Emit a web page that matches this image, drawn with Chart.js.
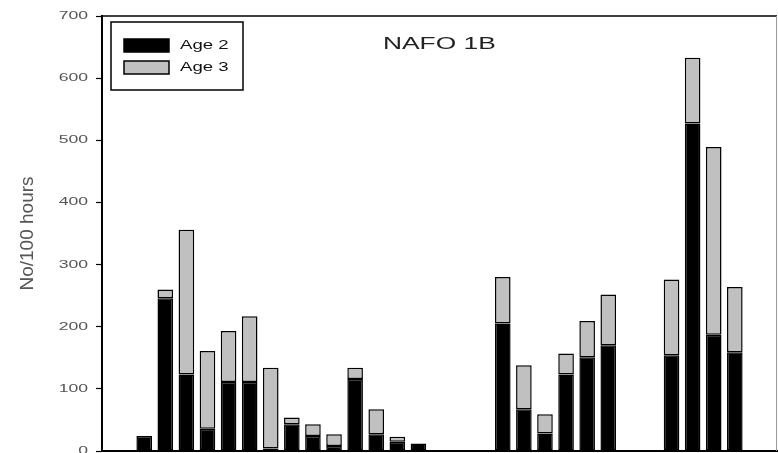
<!DOCTYPE html>
<html>
<head>
<meta charset="utf-8">
<script src="https://cdn.jsdelivr.net/npm/chart.js@4.4.1/dist/chart.umd.min.js"></script>
<style>
  html, body { margin: 0; padding: 0; background: #fff; overflow: hidden; }
  #wrap { position: relative; width: 778px; height: 475px; }
</style>
</head>
<body>
<div id="wrap"><canvas id="grafico"></canvas></div>
<script>
// años (las etiquetas del eje x quedan fuera del recorte)
const years = [];
for (let y = 1976; y <= 2008; y++) years.push(String(y));

const age2 = [null, null, 24, 246, 123, 36, 111, 111, 4, 43, 24, 8, 116, 27, 15, 12,
  null, null, null, 205, 67, 28, 123, 151, 170, null, null, 154, 527, 187, 159, null, null];
const age3 = [null, null, null, 14, 233, 125, 82, 106, 130, 11, 19, 19, 18, 40, 8, null,
  null, null, null, 75, 71, 31, 34, 58, 82, null, null, 122, 106, 302, 105, null, null];

const yTicks = [0, 100, 200, 300, 400, 500, 600, 700];
const seriesLabels = ['Age 2', 'Age 3'];
const titulo = 'NAFO 1B';

const FUENTE = '"Liberation Sans", Arial, sans-serif';

// texto ensanchado horizontalmente, como en la imagen original
function textoAncho(ctx, txt, x, y, size, escala, align, color) {
  ctx.save();
  ctx.font = size + 'px ' + FUENTE;
  ctx.fillStyle = color;
  ctx.textAlign = align;
  ctx.textBaseline = 'middle';
  ctx.translate(x, y);
  ctx.scale(escala, 1);
  ctx.fillText(txt, 0, 0);
  ctx.restore();
}

// marco superior/derecho, etiquetas del eje y, titulo y leyenda con recuadro
const decoracion = {
  id: 'decoracion',
  afterDraw(chart) {
    const ctx = chart.ctx;
    const a = chart.chartArea;
    const ejeY = chart.scales.y;
    ctx.save();
    // marco
    ctx.strokeStyle = '#000';
    ctx.lineWidth = 1.5;
    ctx.beginPath();
    ctx.moveTo(a.left, a.top);
    ctx.lineTo(a.right, a.top);
    ctx.stroke();
    ctx.strokeStyle = '#999';
    ctx.lineWidth = 1;
    ctx.beginPath();
    ctx.moveTo(a.right - 0.5, a.top);
    ctx.lineTo(a.right - 0.5, a.bottom);
    ctx.stroke();

    // etiquetas del eje y
    ejeY.ticks.forEach(t => {
      textoAncho(ctx, String(t.value), a.left - 14, ejeY.getPixelForValue(t.value), 11, 1.6, 'right', '#555');
    });

    // titulo
    textoAncho(ctx, titulo, a.left + 281, a.top + 28, 17, 1.55, 'left', '#222');

    // leyenda
    const lx = a.left + 9, ly = a.top + 6;
    ctx.strokeStyle = '#000';
    ctx.lineWidth = 1.5;
    ctx.strokeRect(lx, ly, 132, 68);
    chart.data.datasets.forEach((ds, i) => {
      const sy = ly + 17 + i * 22;
      ctx.fillStyle = ds.backgroundColor;
      ctx.fillRect(lx + 13, sy, 45, 13);
      ctx.strokeStyle = '#000';
      ctx.lineWidth = 1.5;
      ctx.strokeRect(lx + 13, sy, 45, 13);
      textoAncho(ctx, ds.label, lx + 69, sy + 7, 12, 1.55, 'left', '#111');
    });
    ctx.restore();
  }
};

const ctx = document.getElementById('grafico').getContext('2d');
new Chart(ctx, {
  type: 'bar',
  data: {
    labels: years,
    datasets: [{
      label: seriesLabels[0],
      data: age2,
      backgroundColor: '#000000',
      borderColor: '#000000',
      borderWidth: 1.5,
      borderSkipped: false
    }, {
      label: seriesLabels[1],
      data: age3,
      backgroundColor: '#c0c0c0',
      borderColor: '#000000',
      borderWidth: 1.5,
      borderSkipped: false
    }]
  },
  options: {
    responsive: true,
    maintainAspectRatio: false,
    animation: false,
    layout: { padding: { left: 16, right: 1, top: 16, bottom: 24 } },
    datasets: { bar: { categoryPercentage: 1, barPercentage: 0.74 } },
    plugins: {
      legend: { display: false },
      tooltip: { enabled: false }
    },
    scales: {
      x: {
        stacked: true,
        offset: false,
        grid: { display: false },
        border: { display: true, color: '#000', width: 2 },
        ticks: { display: false },
        afterFit(scale) { scale.height = 0; }
      },
      y: {
        stacked: true,
        min: 0,
        max: 700,
        afterBuildTicks(scale) { scale.ticks = yTicks.map(v => ({ value: v })); },
        grid: { drawOnChartArea: false, color: '#000', tickLength: 6, tickWidth: 1.2 },
        border: { display: true, color: '#000', width: 2 },
        ticks: { display: false },
        title: {
          display: true,
          text: 'No/100 hours',
          color: '#555',
          font: { family: FUENTE, size: 19 },
          padding: { top: 0, bottom: 0 }
        },
        afterFit(scale) { scale.width = 86; }
      }
    }
  },
  plugins: [decoracion]
});
</script>
</body>
</html>
